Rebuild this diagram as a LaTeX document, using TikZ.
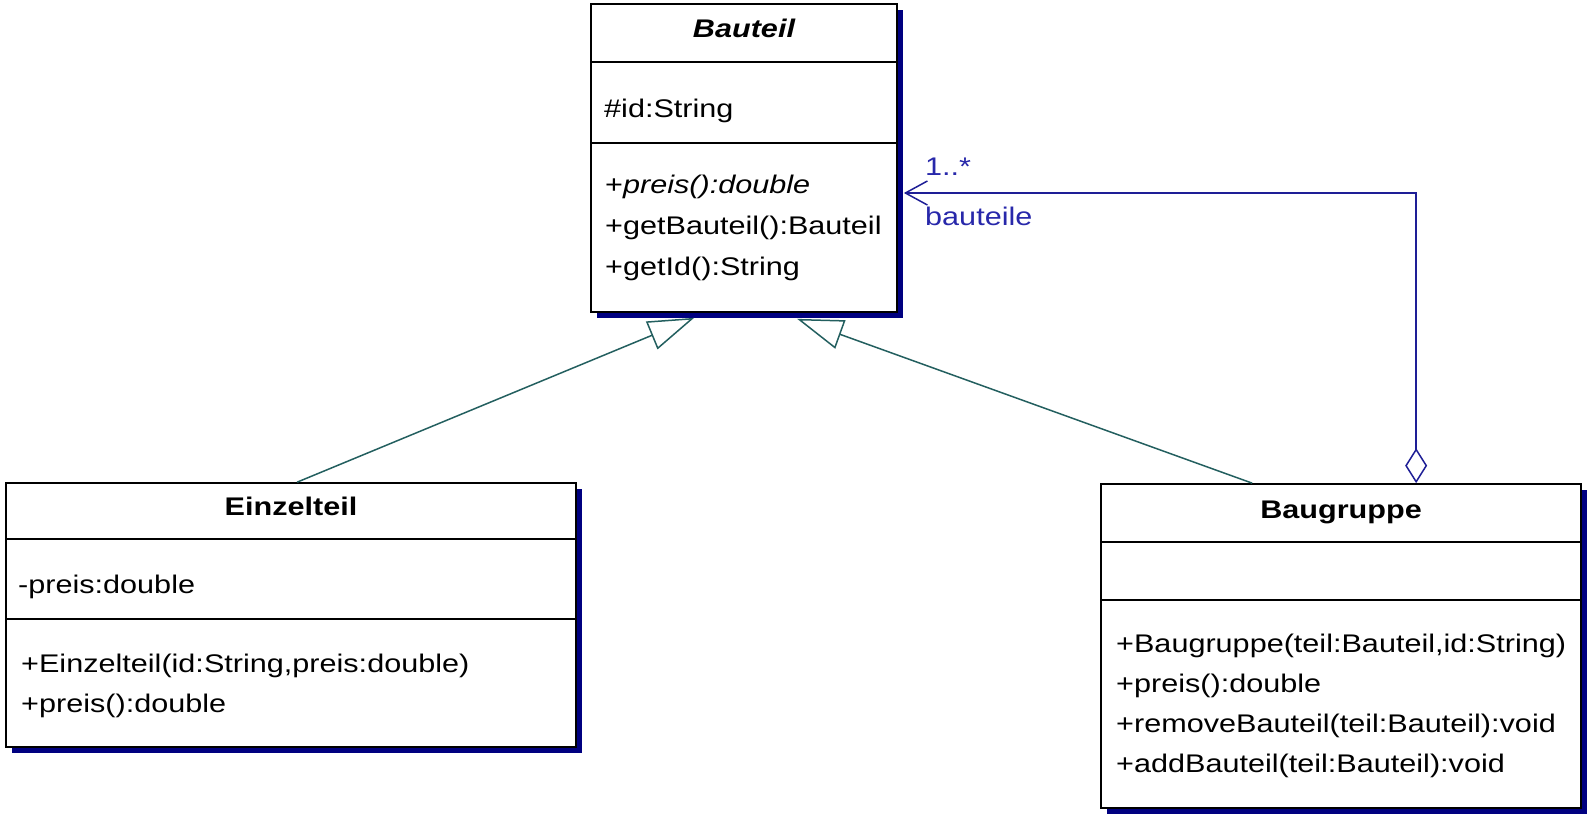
\documentclass[tikz,border=0pt]{standalone}
\usepackage{fontspec}
\setmainfont{Liberation Sans}[FakeStretch=1.2]
\usetikzlibrary{arrows.meta,shadows,calc}
\definecolor{navyshadow}{RGB}{0,0,128}
\definecolor{genc}{RGB}{35,95,95}
\definecolor{assocc}{RGB}{30,30,150}
\definecolor{labelc}{RGB}{40,40,170}
\newcommand{\umlsize}{\fontsize{25.5}{30}\selectfont}
\begin{document}
\begin{tikzpicture}[x=1pt,y=-1pt,
  classbox/.style={draw=black, line width=1.7pt, fill=white, inner sep=0pt,
    drop shadow={shadow xshift=6pt, shadow yshift=-6pt, fill=navyshadow, opacity=1}},
  divider/.style={draw=black, line width=1.7pt},
  txt/.style={anchor=base west, inner sep=0pt, font=\umlsize},
  title/.style={anchor=base, inner sep=0pt, font=\umlsize\bfseries},
  gen/.style={draw=genc, line width=1.5pt, -{Triangle[open, fill=white, length=46pt, width=30pt]}},
  assoc/.style={draw=assocc, line width=1.5pt,
    {Diamond[open, fill=white, length=35pt, width=22pt]}-{Straight Barb[length=22pt, width=24pt]}},
  lbl/.style={anchor=base west, inner sep=0pt, font=\umlsize, text=labelc}
]
\useasboundingbox (0,0) rectangle (1593,819);

% Bauteil
\node[classbox, minimum width=306pt, minimum height=308pt] (bauteil) at (744,158) {};
\draw[divider] (bauteil.west |- 0,62) -- (bauteil.east |- 0,62);
\draw[divider] (bauteil.west |- 0,143) -- (bauteil.east |- 0,143);
\node[title, font=\umlsize\bfseries\itshape] (bt-t) at (744,37) {Bauteil};
\node[txt] (bt-a1) at (604,117) {\#id:String};
\node[txt] (bt-m1) at (605,193) {+\textit{preis():double}};
\node[txt] (bt-m2) at (605,234) {+getBauteil():Bauteil};
\node[txt] (bt-m3) at (605,275) {+getId():String};

% Einzelteil
\node[classbox, minimum width=570pt, minimum height=264pt] (einzel) at (291,615) {};
\draw[divider] (einzel.west |- 0,539) -- (einzel.east |- 0,539);
\draw[divider] (einzel.west |- 0,619) -- (einzel.east |- 0,619);
\node[title] (ez-t) at (291,515) {Einzelteil};
\node[txt] (ez-a1) at (18,593) {-preis:double};
\node[txt] (ez-m1) at (21,672) {+Einzelteil(id:String,preis:double)};
\node[txt] (ez-m2) at (21,712) {+preis():double};

% Baugruppe
\node[classbox, minimum width=480pt, minimum height=324pt] (baug) at (1341,646) {};
\draw[divider] (baug.west |- 0,542) -- (baug.east |- 0,542);
\draw[divider] (baug.west |- 0,600) -- (baug.east |- 0,600);
\node[title] (bg-t) at (1341,518) {Baugruppe};
\node[txt] (bg-m1) at (1116,652) {+Baugruppe(teil:Bauteil,id:String)};
\node[txt] (bg-m2) at (1116,692) {+preis():double};
\node[txt] (bg-m3) at (1116,732) {+removeBauteil(teil:Bauteil):void};
\node[txt] (bg-m4) at (1116,772) {+addBauteil(teil:Bauteil):void};

% Generalizations
\draw[gen] ($(einzel.north west)+(292,0)$) -- ($(bauteil.south west)+(104,5)$);
\draw[gen] ($(baug.north west)+(152,0)$) -- ($(bauteil.south west)+(207,6)$);

% Aggregation
\draw[assoc] ($(baug.north west)+(316,0)$) |- ($(bauteil.east)+(6,35)$);
\node[lbl] (mult) at (925,175) {1..*};
\node[lbl] (role) at (925,225) {bauteile};
\end{tikzpicture}
\end{document}
